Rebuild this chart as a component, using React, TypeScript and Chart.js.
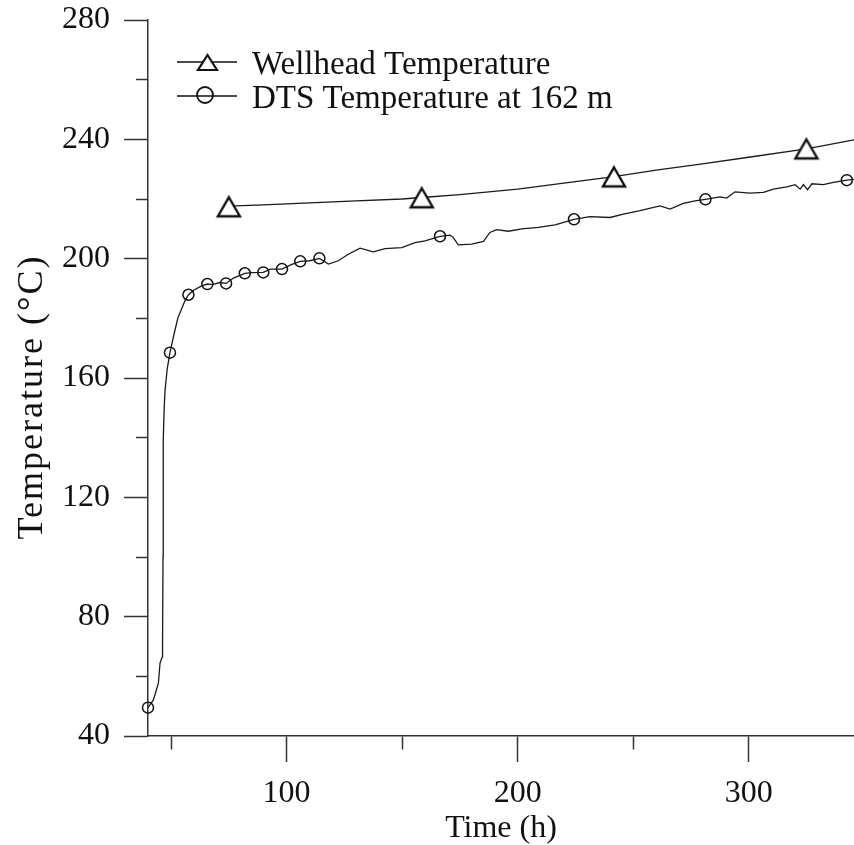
import React, { useEffect, useRef } from 'react';
import { Chart, registerables } from 'chart.js';

Chart.register(...registerables);

// ---- axis ticks ----
const xMajorTicks = [100, 200, 300];
const xMinorTicks = [50, 150, 250];
const yMajorTicks = [40, 80, 120, 160, 200, 240, 280];
const yMinorTicks = [60, 100, 140, 180, 220, 260];

// ---- Wellhead temperature ----
const wellheadTime = [75, 90, 110, 130, 150, 158.5, 175, 200, 225, 241.7, 260, 280, 300, 325, 345.6];
const wellheadTemp = [217.6, 218.0, 218.7, 219.4, 220.0, 220.5, 221.5, 223.3, 225.8, 227.5, 229.7, 231.8, 234.0, 236.8, 239.8];
const wellheadMarkerTime = [75, 158.5, 241.7, 325];
const wellheadMarkerTemp = [217.4, 220.4, 227.4, 236.8];

// ---- DTS temperature at 162 m ----
const dtsTime = [
  40, 42.3, 44.5, 45.2, 45.9, 46.2, 46.3, 46.5, 46.6, 47.0, 47.4, 48.3, 49.5, 51.5, 53, 56, 57.5, 60, 63,
  65.7, 68, 71, 73.8, 77, 81.9, 85, 89.9, 93, 98, 102, 105.9, 110, 114.2, 118.1, 122.4, 126.7, 131.8,
  137.5, 142.6, 149.8, 155.6, 159.9, 166.4, 170.7, 172.1, 174.3, 180.1, 185.2, 188.0, 190.9, 196.0,
  201.8, 209.0, 216.2, 224.4, 231.3, 240.0, 245.8, 253.0, 261.6, 266.0, 271.7, 276.8, 281.3, 287.6,
  290.5, 294.1, 300.6, 306.4, 310.7, 316.5, 320.1, 322.3, 323.7, 325.5, 327.4, 332.3, 336.7, 342.5, 345.6,
];
const dtsTemp = [
  49.5, 52, 57.7, 64.4, 66, 66.5, 71, 100, 139, 150, 156, 163, 168.5, 175.5, 180.3, 185.9, 187.9, 189.5, 190.8,
  191.5, 191.3, 192, 191.7, 193.5, 195.1, 195.3, 195.4, 196.5, 196.5, 198, 199.1, 199.3, 200.1, 198.2, 199.3, 201.5, 203.5,
  202.3, 203.4, 203.7, 205.4, 206.0, 207.5, 207.9, 207.1, 204.6, 204.9, 205.8, 208.8, 209.7, 209.2,
  210.0, 210.5, 211.3, 213.2, 214.1, 213.8, 214.9, 216.1, 217.7, 216.6, 218.5, 219.4, 219.9, 220.7,
  220.3, 222.4, 222.0, 222.2, 223.3, 224.1, 224.8, 223.3, 224.8, 223.1, 225.1, 224.8, 225.6, 226.3, 226.6,
];
const dtsMarkerTime = [40, 49.5, 57.5, 65.7, 73.8, 81.9, 89.9, 98.0, 105.9, 114.2, 166.4, 224.4, 281.3, 342.5];
const dtsMarkerTemp = [49.5, 168.5, 187.9, 191.5, 191.7, 195.1, 195.4, 196.5, 199.1, 200.1, 207.5, 213.2, 219.9, 226.3];

const seriesLabels = ['Wellhead Temperature', 'DTS Temperature at 162 m'];
const xTitle = 'Time (h)';
const yTitle = 'Temperature (°C)';

const FONT = '"Liberation Serif", "Times New Roman", serif';
const INK = '#111';
const AXIS = '#333';

const toXY = (xs: number[], ys: number[]) => xs.map((x, i) => ({ x, y: ys[i] }));

function makeTriangle(w: number, h: number, lw: number) {
  const c = document.createElement('canvas');
  const pad = Math.ceil(lw) + 1;
  c.width = w + pad * 2;
  c.height = h + pad * 2;
  const ctx = c.getContext('2d')!;
  ctx.lineWidth = lw;
  ctx.strokeStyle = INK;
  ctx.fillStyle = '#fff';
  ctx.lineJoin = 'miter';
  ctx.beginPath();
  ctx.moveTo(pad + w / 2, pad);
  ctx.lineTo(pad + w, pad + h);
  ctx.lineTo(pad, pad + h);
  ctx.closePath();
  ctx.fill();
  ctx.stroke();
  return c;
}

export default function App() {
  const ref = useRef<HTMLCanvasElement | null>(null);

  useEffect(() => {
    if (!ref.current) return;
    const triPlot = makeTriangle(22, 19, 2.4);
    const triLegend = makeTriangle(19, 15, 2.2);

    const annotPlugin = {
      id: 'insetLegendAndTitle',
      afterDraw(chart: any) {
        const { ctx, chartArea } = chart;
        ctx.save();
        // inset legend
        const x0 = chartArea.left + 29;
        const x1 = chartArea.left + 89;
        const textX = chartArea.left + 104;
        const rows = [
          { lineY: chartArea.top + 42, baseY: chartArea.top + 54, kind: 'tri' },
          { lineY: chartArea.top + 76, baseY: chartArea.top + 88, kind: 'circ' },
        ];
        rows.forEach((r, i) => {
          ctx.strokeStyle = INK;
          ctx.lineWidth = 1.4;
          ctx.beginPath();
          ctx.moveTo(x0, r.lineY);
          ctx.lineTo(x1, r.lineY);
          ctx.stroke();
          const cx = (x0 + x1) / 2;
          if (r.kind === 'tri') {
            ctx.drawImage(triLegend, Math.round(cx - triLegend.width / 2), Math.round(r.lineY - triLegend.height / 2));
          } else {
            ctx.lineWidth = 1.8;
            ctx.beginPath();
            ctx.arc(cx - 2, r.lineY - 1, 8, 0, Math.PI * 2);
            ctx.stroke();
          }
          ctx.fillStyle = INK;
          ctx.font = `33px ${FONT}`;
          ctx.textBaseline = 'alphabetic';
          ctx.textAlign = 'left';
          ctx.fillText(seriesLabels[i], textX, r.baseY);
        });
        ctx.restore();

        // y axis title (slightly letter-spaced, as in the reference)
        ctx.save();
        ctx.translate(33, (chartArea.top + chartArea.bottom) / 2 + 19);
        ctx.rotate(-Math.PI / 2);
        ctx.font = `36px ${FONT}`;
        (ctx as any).letterSpacing = '2px';
        ctx.fillStyle = INK;
        ctx.textAlign = 'center';
        ctx.textBaseline = 'middle';
        ctx.fillText(yTitle, 0, 0);
        ctx.restore();
      },
    };

    const chart = new Chart(ref.current, {
      type: 'scatter',
      data: {
        datasets: [
          {
            label: seriesLabels[0] + ' markers',
            data: toXY(wellheadMarkerTime, wellheadMarkerTemp),
            showLine: false,
            pointStyle: triPlot as any,
            pointRadius: 10,
            pointBorderColor: INK,
            pointBackgroundColor: '#fff',
            order: 0,
            clip: false as any,
          },
          {
            label: seriesLabels[1] + ' markers',
            data: toXY(dtsMarkerTime, dtsMarkerTemp),
            showLine: false,
            pointStyle: 'circle',
            pointRadius: 5.5,
            pointBorderWidth: 1.5,
            pointBorderColor: INK,
            pointBackgroundColor: 'rgba(0,0,0,0)',
            order: 0,
            clip: false as any,
          },
          {
            label: seriesLabels[0],
            data: toXY(wellheadTime, wellheadTemp),
            showLine: true,
            borderColor: '#1a1a1a',
            borderWidth: 1.3,
            pointRadius: 0,
            tension: 0,
            order: 1,
          },
          {
            label: seriesLabels[1],
            data: toXY(dtsTime, dtsTemp),
            showLine: true,
            borderColor: '#1a1a1a',
            borderWidth: 1.3,
            pointRadius: 0,
            tension: 0,
            order: 1,
          },
        ],
      },
      options: {
        responsive: false,
        animation: false,
        devicePixelRatio: 1,
        layout: { autoPadding: false, padding: { left: 0, top: 20, right: 0, bottom: 0 } },
        plugins: { legend: { display: false }, tooltip: { enabled: false } },
        scales: {
          x: {
            type: 'linear',
            min: 40,
            max: 345.6,
            afterBuildTicks: (scale: any) => {
              scale.ticks = [...xMinorTicks, ...xMajorTicks].sort((a, b) => a - b).map((v) => ({ value: v }));
            },
            afterFit: (scale: any) => {
              scale.height = 109;
              scale.paddingLeft = 0;
              scale.paddingRight = 0;
              scale.paddingTop = 0;
              scale.paddingBottom = 0;
            },
            ticks: {
              autoSkip: false,
              maxRotation: 0,
              padding: 12,
              color: INK,
              font: { family: FONT, size: 32 },
              callback: (v: any) => (xMajorTicks.includes(Number(v)) ? String(v) : ''),
            },
            grid: {
              drawOnChartArea: false,
              drawTicks: true,
              tickLength: 26,
              tickColor: AXIS,
              tickWidth: 1.5,
              tickBorderDash: (c: any) => (c.tick && !xMajorTicks.includes(c.tick.value) ? [13, 100] : []),
              tickBorderDashOffset: 0,
            } as any,
            border: { display: true, color: AXIS, width: 1.5 },
            title: {
              display: true,
              text: xTitle,
              color: INK,
              font: { family: FONT, size: 32, lineHeight: 1 },
              padding: { top: 0, bottom: 0 },
            },
          },
          y: {
            type: 'linear',
            min: 40,
            max: 280,
            afterBuildTicks: (scale: any) => {
              scale.ticks = [...yMinorTicks, ...yMajorTicks].sort((a, b) => a - b).map((v) => ({ value: v }));
            },
            afterFit: (scale: any) => {
              scale.width = 148;
              scale.paddingLeft = 0;
              scale.paddingRight = 0;
              scale.paddingTop = 0;
              scale.paddingBottom = 0;
            },
            ticks: {
              autoSkip: false,
              padding: 14,
              color: INK,
              font: { family: FONT, size: 32 },
              callback: (v: any) => (yMajorTicks.includes(Number(v)) ? String(v) : ''),
            },
            grid: {
              drawOnChartArea: false,
              drawTicks: true,
              tickLength: 24,
              tickColor: AXIS,
              tickWidth: 1.5,
              tickBorderDash: (c: any) => (c.tick && !yMajorTicks.includes(c.tick.value) ? [12, 100] : []),
              tickBorderDashOffset: (c: any) => (c.tick && !yMajorTicks.includes(c.tick.value) ? 100 : 0),
            } as any,
            border: { display: true, color: AXIS, width: 1.5 },
            title: { display: false },
          },
        },
      },
      plugins: [annotPlugin],
    } as any);

    return () => chart.destroy();
  }, []);

  return (
    <div style={{ position: 'absolute', left: 0, top: 0, width: 854, height: 845, background: '#fff' }}>
      <canvas ref={ref} width={854} height={845} style={{ display: 'block' }} />
    </div>
  );
}
